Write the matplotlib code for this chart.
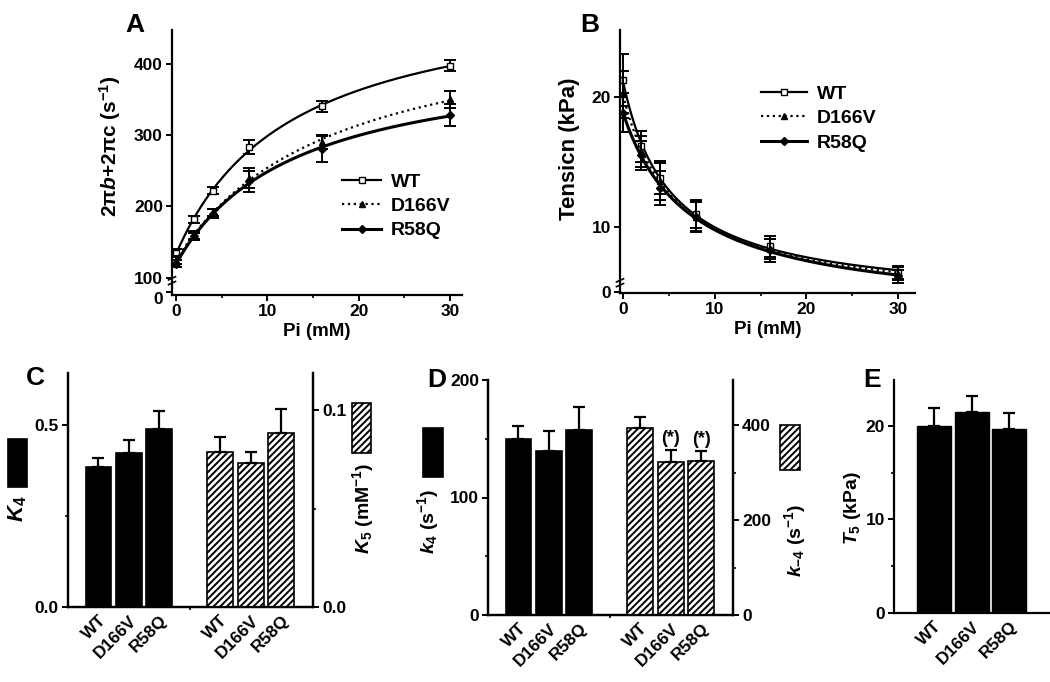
import numpy as np
import matplotlib as mpl
mpl.use('Agg')
import matplotlib.pyplot as plt
from matplotlib.patches import Rectangle

plt.rcParams['font.family'] = ['Liberation Sans', 'DejaVu Sans']
plt.rcParams['font.weight'] = 'bold'
plt.rcParams['axes.labelweight'] = 'bold'
plt.rcParams['axes.linewidth'] = 1.6
for a in ('xtick', 'ytick'):
    plt.rcParams[a + '.major.width'] = 1.4
    plt.rcParams[a + '.minor.width'] = 1.2
    plt.rcParams[a + '.major.size'] = 4
    plt.rcParams[a + '.minor.size'] = 2.5
    plt.rcParams[a + '.labelsize'] = 12.5
    plt.rcParams[a + '.major.pad'] = 2.5
plt.rcParams['hatch.linewidth'] = 1.4
plt.rcParams['mathtext.fontset'] = 'custom'
plt.rcParams['mathtext.rm'] = 'Liberation Sans:bold'
plt.rcParams['mathtext.it'] = 'Liberation Sans:italic:bold'
plt.rcParams['mathtext.bf'] = 'Liberation Sans:bold'

# ---- data ----
pi_mM = [0, 2, 4, 8, 16, 30]
strains = ['WT', 'D166V', 'R58Q']

# A: 2πb+2πc (s-1)
rate_wt = [135, 182, 222, 283, 340, 397]
rate_wt_err = [6, 5, 5, 10, 8, 8]
rate_d166v = [125, 160, 192, 240, 290, 350]
rate_d166v_err = [5, 5, 5, 14, 10, 12]
rate_r58q = [120, 158, 190, 235, 280, 328]
rate_r58q_err = [5, 5, 6, 15, 18, 15]

# B: tension (kPa)
tens_wt = [21.3, 16.2, 13.8, 11.0, 8.5, 6.5]
tens_wt_err = [2.0, 1.2, 1.3, 1.1, 0.8, 0.5]
tens_d166v = [20.2, 15.8, 13.5, 10.8, 8.3, 6.4]
tens_d166v_err = [1.8, 1.2, 1.4, 1.2, 0.8, 0.5]
tens_r58q = [18.8, 15.5, 13.0, 10.8, 8.2, 6.2]
tens_r58q_err = [1.5, 1.1, 1.3, 1.1, 0.9, 0.5]

# C
K4 = [0.385, 0.423, 0.489]
K4_err = [0.025, 0.036, 0.049]
K5 = [0.0787, 0.0731, 0.0883]
K5_err = [0.0076, 0.0056, 0.0122]

# D
k4 = [150, 140, 157.5]
k4_err = [11, 17, 19.5]
k_4 = [394, 322, 324]
k_4_err = [23, 25, 21]
k_4_sig = ['', '(*)', '(*)']

# E
T5 = [20.0, 21.5, 19.7]
T5_err = [1.9, 1.7, 1.7]


def hyper_fit(x, y):
    x = np.asarray(x, float)
    y = np.asarray(y, float)
    best = None
    for K in np.linspace(0.3, 80, 800):
        f = x / (K + x)
        A = np.column_stack([np.ones_like(f), f])
        coef = np.linalg.lstsq(A, y, rcond=None)[0]
        err = np.sum((A @ coef - y) ** 2)
        if best is None or err < best[0]:
            best = (err, K, coef)
    _, K, (a, b) = best
    xs = np.linspace(0, x.max(), 200)
    return xs, a + b * xs / (K + xs)


def break_mark(ax, yfrac):
    for dy in (0, 0.018):
        ax.plot([-0.012, 0.012], [yfrac + dy - 0.006, yfrac + dy + 0.006],
                transform=ax.transAxes, color='black', lw=1.2, clip_on=False)


fig = plt.figure(figsize=(10.5, 6.82), dpi=100)

styles = [dict(marker='s', mfc='white', ls='-', lw=1.6),
          dict(marker='^', mfc='black', ls=':', lw=1.6),
          dict(marker='D', mfc='black', ls='-', lw=2.2)]


def curve_panel(ax, series, errors):
    for vals, errs, lab, st in zip(series, errors, strains, styles):
        xs, ys = hyper_fit(pi_mM, vals)
        ax.plot(xs, ys, color='black', ls=st['ls'], lw=st['lw'])
        ax.errorbar(pi_mM, vals, yerr=errs, fmt='none', ecolor='black', capsize=4, elinewidth=1.4,
                    capthick=1.4)
        ax.plot(pi_mM, vals, ls='none', marker=st['marker'], ms=4.5, mfc=st['mfc'], mec='black')
        ax.plot([], [], color='black', ls=st['ls'], lw=st['lw'], marker=st['marker'], ms=4,
                mfc=st['mfc'], mec='black', label=lab)
    ax.set_xticks([0, 10, 20, 30])
    ax.set_xticks([5, 15, 25], minor=True)
    ax.spines[['top', 'right']].set_visible(False)
    ax.set_xlabel('Pi (mM)', fontsize=13.5, labelpad=3)


# ---- A ----
axA = fig.add_axes([172/1050, 1-295/682, 290/1050, 265/682])
curve_panel(axA, [rate_wt, rate_d166v, rate_r58q], [rate_wt_err, rate_d166v_err, rate_r58q_err])
axA.set_xlim(-0.45, 31.3)
axA.set_ylim(76, 447)
axA.set_yticks([80, 100, 200, 300, 400])
axA.set_yticklabels(['0', '100', '200', '300', '400'])
axA.get_yticklabels()[0].set_va('top')
axA.set_ylabel('2π$\\it{b}$+2πc (s$^{-1}$)', fontsize=15)
axA.yaxis.set_label_coords(-0.17, 0.56)
break_mark(axA, 0.045)
axA.legend(loc='upper left', bbox_to_anchor=(0.56, 0.49), frameon=False, fontsize=14,
           handlelength=2.0, labelspacing=0.35, handletextpad=0.5, borderaxespad=0)

# ---- B ----
axB = fig.add_axes([620/1050, 1-293/682, 295/1050, 263/682])
curve_panel(axB, [tens_wt, tens_d166v, tens_r58q], [tens_wt_err, tens_d166v_err, tens_r58q_err])
axB.set_xlim(-0.33, 31.85)
axB.set_ylim(4.92, 25.15)
axB.set_yticks([5, 10, 20])
axB.set_yticklabels(['0', '10', '20'])
axB.set_ylabel('Tensicn (kPa)', fontsize=16)
axB.yaxis.set_label_coords(-0.135, 0.55)
break_mark(axB, 0.03)
axB.legend(loc='upper left', bbox_to_anchor=(0.45, 0.82), frameon=False, fontsize=14,
           handlelength=2.4, labelspacing=0.35, handletextpad=0.5, borderaxespad=0)

left_pos = [0, 1, 2]
right_pos = [4, 5, 6]
bar_w = 0.85


def bars(ax, pos, vals, errs, hatched):
    ax.bar(pos, vals, width=bar_w, color='white' if hatched else 'black',
           edgecolor='black', hatch='/////' if hatched else None, lw=1.2)
    ax.errorbar(pos, vals, yerr=[np.zeros(len(errs)), errs], fmt='none',
                ecolor='black', capsize=4.5, elinewidth=1.6, capthick=1.6)


def swatch(ax, x0, x1, y0, y1, hatched):
    ax.add_patch(Rectangle((x0, y0), x1 - x0, y1 - y0, transform=ax.transAxes,
                           facecolor='white' if hatched else 'black', edgecolor='black',
                           hatch='/////' if hatched else None, lw=1.2, clip_on=False))


def twin_panel(rect, lvals, lerrs, rvals, rerrs, lylim, rylim, lticks, rticks, lminor, rminor):
    axL = fig.add_axes(rect)
    axR = axL.twinx()
    bars(axL, left_pos, lvals, lerrs, False)
    bars(axR, right_pos, rvals, rerrs, True)
    axL.set_xlim(-1, 7.05)
    axL.set_ylim(*lylim)
    axR.set_ylim(*rylim)
    axL.set_yticks(lticks)
    axR.set_yticks(rticks)
    axL.set_yticks(lminor, minor=True)
    axR.set_yticks(rminor, minor=True)
    axL.set_xticks(left_pos + right_pos)
    axL.set_xticklabels(strains + strains, rotation=45, ha='right', rotation_mode='anchor',
                        fontsize=12.5)
    axL.set_xticks([3], minor=True)
    axL.tick_params(axis='x', which='major', length=0, pad=4)
    for ax in (axL, axR):
        ax.spines['top'].set_visible(False)
    return axL, axR


# ---- C ----
axCL, axCR = twin_panel([68/1050, 1-607/682, 245/1050, 234/682], K4, K4_err, K5, K5_err,
                        (0, 0.643), (0, 0.119), [0.0, 0.5], [0.0, 0.1], [0.25], [0.05])
axCL.yaxis.set_major_formatter(mpl.ticker.FormatStrFormatter('%.1f'))
axCR.yaxis.set_major_formatter(mpl.ticker.FormatStrFormatter('%.1f'))
axCL.set_ylabel('$\\it{K}_{4}$', fontsize=16, rotation=90)
axCL.yaxis.set_label_coords(-0.158, 0.42)
axCR.set_ylabel('$\\it{K}_{5}$ (mM$^{-1}$)', fontsize=14, rotation=90)
axCR.yaxis.set_label_coords(1.152, 0.42)
swatch(axCL, -0.245, -0.167, 0.513, 0.718, False)
swatch(axCL, 1.159, 1.237, 0.658, 0.872, True)

# ---- D ----
axDL, axDR = twin_panel([488/1050, 1-615/682, 245/1050, 235/682], k4, k4_err, k_4, k_4_err,
                        (0, 200), (0, 495), [0, 100, 200], [0, 200, 400], [50, 150], [100, 300])
for p, v, e, s in zip(right_pos, k_4, k_4_err, k_4_sig):
    axDR.text(p, v + e + 6, s, ha='center', va='bottom', fontsize=13)
axDL.set_ylabel('$\\it{k}_{4}$ (s$^{-1}$)', fontsize=14, rotation=90)
axDL.yaxis.set_label_coords(-0.19, 0.40)
axDR.set_ylabel('$\\it{k}_{-4}$ (s$^{-1}$)', fontsize=14, rotation=90)
axDR.yaxis.set_label_coords(1.2, 0.32)
swatch(axDL, -0.265, -0.184, 0.587, 0.796, False)
swatch(axDL, 1.192, 1.273, 0.617, 0.809, True)

# ---- E ----
e_pos = [0, 1, 2]
axE = fig.add_axes([894/1050, 1-613/682, 156/1050, 233/682])
axE.bar(e_pos, T5, width=0.9, color='black', edgecolor='black')
axE.errorbar(e_pos, T5, yerr=[np.zeros(3), T5_err], fmt='none', ecolor='black',
             capsize=4.5, elinewidth=1.6, capthick=1.6)
axE.set_xlim(-1.07, 3.09)
axE.set_ylim(0, 24.9)
axE.set_yticks([0, 10, 20])
axE.set_yticks([5, 15], minor=True)
axE.set_xticks(e_pos)
axE.set_xticklabels(strains, rotation=45, ha='right', rotation_mode='anchor', fontsize=12.5)
axE.tick_params(axis='x', length=0, pad=4)
axE.spines[['top', 'right']].set_visible(False)
axE.set_ylabel('$\\it{T}_{5}$ (kPa)', fontsize=14)
axE.yaxis.set_label_coords(-0.2, 0.45)

# panel letters
for lab, x, y in [('A', 135, 25), ('B', 590, 25), ('C', 35, 378), ('D', 437, 380), ('E', 872, 380)]:
    fig.text(x/1050, 1-y/682, lab, fontsize=19, fontweight='bold', ha='center', va='center')

fig.savefig('out.png', dpi=100)
